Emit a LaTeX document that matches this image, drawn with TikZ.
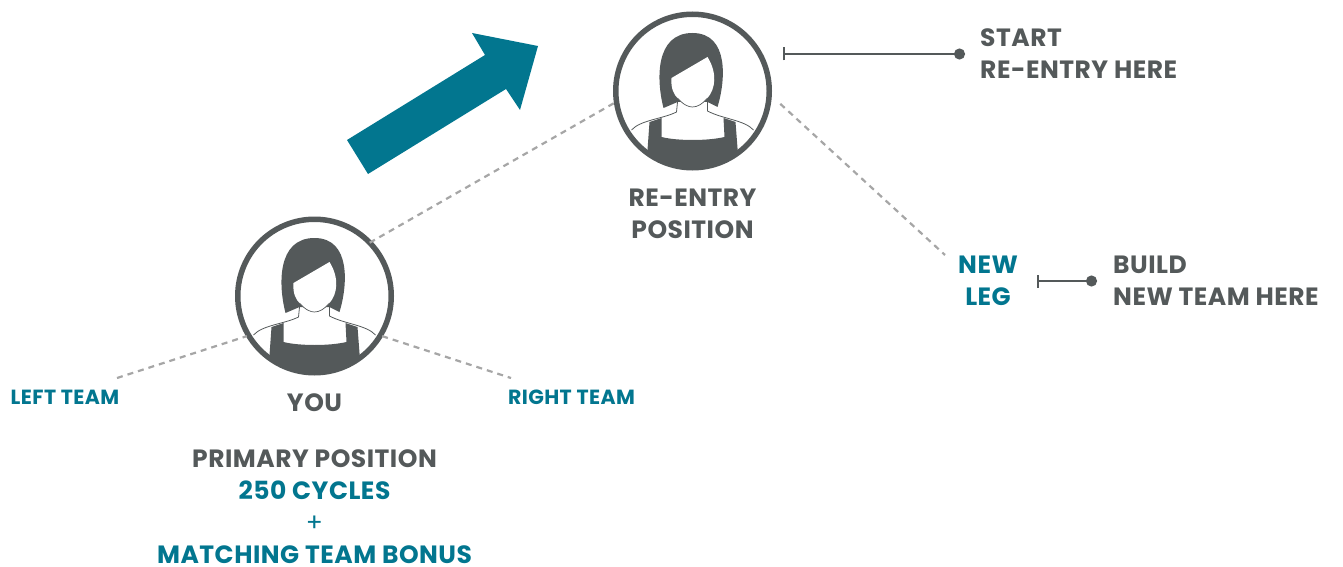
\documentclass[tikz,border=0pt]{standalone}
\usepackage{fontspec}
\setmainfont{Poppins}[LetterSpace=2]
\usetikzlibrary{calc, arrows.meta}
\definecolor{darkgrey}{HTML}{54595A}
\definecolor{tealblue}{HTML}{02768F}
\definecolor{dashgrey}{HTML}{A6A6A6}
\tikzset{
    ring/.style={circle, draw=darkgrey, line width=5.5pt, minimum size=153.5pt, inner sep=0pt, outer sep=0pt},
    legline/.style={dashgrey, line width=2.2pt, dash pattern=on 6pt off 5pt},
    tagline/.style={darkgrey, line width=2.2pt, {Bar[width=13pt,line width=2.2pt]}-{Circle[length=11pt,width=11pt]}},
    greytext/.style={darkgrey, font=\fontsize{25}{32}\selectfont\bfseries, align=center, inner sep=0pt},
    tealtext/.style={tealblue, font=\fontsize{25}{32}\selectfont\bfseries, align=center, inner sep=0pt},
    smalltext/.style={tealblue, font=\fontsize{20.5}{24}\selectfont\bfseries, inner sep=0pt},
    pics/person/.style={code={
        \begin{scope}
            \clip (0,0) circle (76);
            % dress
            \fill[darkgrey] (-43,31) -- (-31,27) -- (-31,46) .. controls (-15,50) and (15,50) .. (32,46)
                -- (31,27) -- (43,31) -- (45,57) -- (45,90) -- (-45,90) -- (-45,59) -- cycle;
        \end{scope}
        % hair
        \fill[darkgrey] (-29,17) .. controls (-36,-10) and (-38,-58) .. (0,-58)
            .. controls (37,-58) and (33,-10) .. (25,16) -- (15,11) -- (-15,11) -- cycle;
        % face
        \fill[white] (15,-34) -- (-21,-13) .. controls (-22,-2) and (-18,4) .. (-15,7)
            .. controls (-9,14) and (-4,16) .. (0,16) .. controls (5,16) and (10,13) .. (15,7)
            .. controls (23,-2) and (25,-18) .. (15,-34) -- cycle;
        \draw[darkgrey, line width=0.7pt] (-15,7) .. controls (-9,14) and (-4,16) .. (0,16)
            .. controls (5,16) and (10,13) .. (15,7);
        % shoulders
        \draw[darkgrey, line width=0.8pt] (-15,11) -- (-16,21) .. controls (-30,28) and (-52,29) .. (-61,39);
        \draw[darkgrey, line width=0.8pt] (15,11) -- (15,20) .. controls (30,28) and (52,29) .. (61,39);
    }}
}
\begin{document}
\begin{tikzpicture}[x=1pt,y=-1pt]
    \useasboundingbox (0,0) rectangle (1343,567);

    \node[ring] (you) at (314.5,296) {};
    \node[ring] (reentry) at (692.5,91) {};
    \pic at (you.center) {person};
    \pic at (reentry.center) {person};

    % big arrow
    \fill[tealblue] (347,140) -- (485,55) -- (472,33) -- (538,46) -- (520,110) -- (506,89) -- (368,174) -- cycle;

    % labels
    \node[greytext] (youlabel) at (314.5,403) {YOU};
    \node[greytext] (reentrylabel) at (692.5,214) {RE-ENTRY\\POSITION};
    \node[greytext, align=left, anchor=west] (startlabel) at (980,54) {START\\RE-ENTRY HERE};
    \node[greytext, align=left, anchor=west] (buildlabel) at (1113,281) {BUILD\\NEW TEAM HERE};
    \node[tealtext] (newleg) at (988,281) {NEW\\LEG};
    \node[smalltext] (leftteam) at (65,397) {LEFT TEAM};
    \node[smalltext] (rightteam) at (571.5,397) {RIGHT TEAM};
    \node[greytext, text=tealblue] (primary) at (314.5,507)
        {\textcolor{darkgrey}{PRIMARY POSITION}\\250 CYCLES\\{\mdseries +}\\MATCHING TEAM BONUS};

    % dashed legs
    \coordinate (leftend) at (117,378);
    \coordinate (rightend) at (511,378);
    \coordinate (legend) at (945,255);
    \draw[legline, shorten >=2pt] (leftend) -- (you.211);
    \draw[legline, shorten <=2pt] (you.-31) -- (rightend);
    \draw[legline] (you.44) -- (reentry.188);
    \draw[legline, shorten <=15pt] (reentry.-2) -- (legend);

    % tag lines
    \coordinate (startbar) at (783,54);
    \coordinate (startdot) at (965,54);
    \coordinate (buildbar) at (1036.5,281);
    \coordinate (builddot) at (1097,281);
    \draw[tagline] (startbar) -- (startdot);
    \draw[tagline] (buildbar) -- (builddot);
\end{tikzpicture}
\end{document}
